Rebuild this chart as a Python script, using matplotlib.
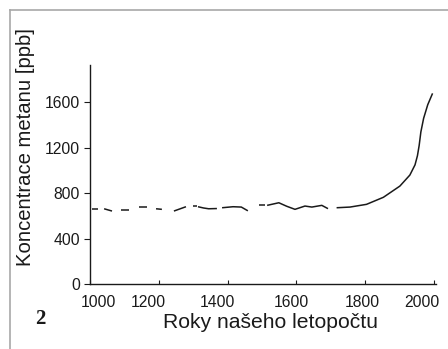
import numpy as np
import matplotlib
matplotlib.use("Agg")
import matplotlib.pyplot as plt
from matplotlib.lines import Line2D
from matplotlib.transforms import ScaledTranslation

plt.rcParams['font.family'] = ['Liberation Sans', 'DejaVu Sans']

# Data segments (year, ppb); separate records separated by gaps
seg_years = [
    [1006, 1023],
    [1041, 1064],
    [1090, 1113],
    [1142, 1166],
    [1192, 1209],
    [1244, 1279],
    [1299, 1311],
    [1314, 1330, 1345, 1369],
    [1384, 1416, 1440, 1459],
    [1491, 1509],
    [1515, 1549, 1572, 1596, 1625, 1645, 1674, 1692],
    [1717, 1756, 1804, 1853, 1901, 1930, 1945, 1952, 1957, 1962, 1970, 1982, 1996],
]
seg_ppb = [
    [658, 658],
    [663, 643],
    [652, 652],
    [678, 678],
    [663, 658],
    [643, 681],
    [687, 687],
    [681, 670, 663, 665],
    [672, 681, 678, 645],
    [693, 693],
    [693, 716, 685, 658, 687, 678, 693, 664],
    [672, 678, 702, 764, 863, 960, 1050, 1130, 1220, 1340, 1460, 1580, 1680],
]

x_ticks = [1000, 1200, 1400, 1600, 1800, 2000]
y_ticks = [0, 400, 800, 1200, 1600]
# small horizontal shifts (pixels) of the x tick labels as in the reference
x_label_shift = [8, -10, -10, -5, -3, -12]

W, H = 448, 349
fig = plt.figure(figsize=(W / 100, H / 100), dpi=100)
ax = fig.add_axes([90 / W, 65 / H, 346 / W, 219 / H])

for xs, ys in zip(seg_years, seg_ppb):
    ax.plot(xs, ys, color='#1a1a1a', lw=1.1, solid_capstyle='butt')

ax.set_xlim(1000, 2006)
ax.set_ylim(0, 1930)
ax.set_xticks(x_ticks)
ax.set_yticks(y_ticks)
ax.spines['top'].set_visible(False)
ax.spines['right'].set_visible(False)
for s in ('left', 'bottom'):
    ax.spines[s].set_linewidth(1.0)
    ax.spines[s].set_color('#1a1a1a')

ax.tick_params(axis='y', direction='out', length=4.3, width=0.8, pad=3,
               labelsize=11.3, colors='#1a1a1a')
ax.tick_params(axis='x', direction='in', length=3, width=0.8, pad=8,
               labelsize=11.3, colors='#1a1a1a')

for lab, dx in zip(ax.get_xticklabels(), x_label_shift):
    lab.set_transform(lab.get_transform() + ScaledTranslation(dx / 100, 0, fig.dpi_scale_trans))

ax.set_xlabel('Roky našeho letopočtu', fontsize=15.2, color='#1a1a1a', va='center')
ax.xaxis.set_label_coords((270 - 90) / 346, (284 - 323) / 219)
ax.set_ylabel('Koncentrace metanu [ppb]', fontsize=14.6, color='#1a1a1a', va='center')
ax.yaxis.set_label_coords((26 - 90) / 346, (284 - 147) / 219)

fig.text(40 / W, 1 - 319 / H, '2', fontsize=15, fontweight='bold',
         family=['Liberation Serif', 'DejaVu Serif'], ha='center', va='center',
         color='#1a1a1a')

# outer frame (clipped at right and bottom)
fig.add_artist(Line2D([10 / W, 10 / W], [0, 1 - 10 / H], transform=fig.transFigure,
                      color='#a8a8a8', lw=1.2))
fig.add_artist(Line2D([10 / W, 1], [1 - 10 / H, 1 - 10 / H], transform=fig.transFigure,
                      color='#a8a8a8', lw=1.2))

fig.savefig('out.png', dpi=100)
